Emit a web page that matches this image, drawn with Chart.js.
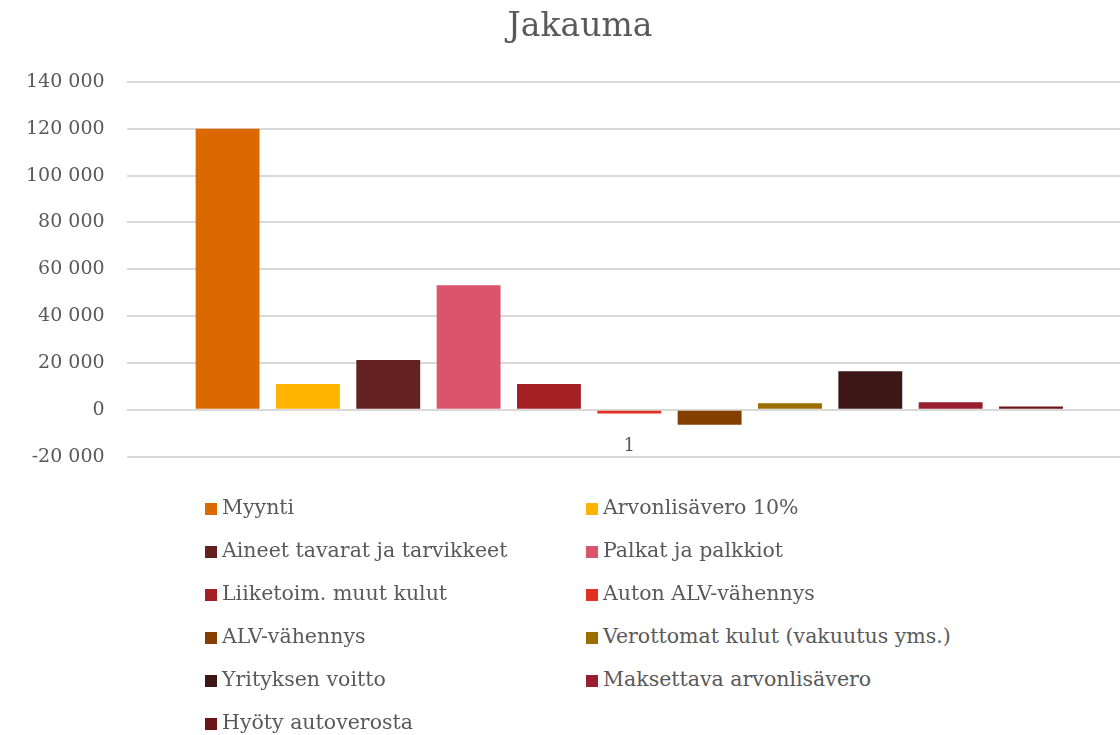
<!DOCTYPE html>
<html>
<head>
<meta charset="utf-8">
<script src="https://cdn.jsdelivr.net/npm/chart.js@4"></script>
<style>
  html, body { margin: 0; padding: 0; background: #fff; overflow: hidden; }
  #wrap { position: absolute; left: 0; top: 0; width: 1132px; height: 490px; }
  #title { position: absolute; left: 380px; width: 400px; top: 5px; text-align: center;
           font-family: 'DejaVu Serif', serif; font-size: 33px; color: #595959; }
  #legend { position: absolute; left: 0; top: 486px; width: 1120px;
            font-family: 'DejaVu Serif', serif; font-size: 20.5px; color: #595959; }
  .item { position: absolute; height: 43px; line-height: 43px; white-space: nowrap; }
  .box { display: inline-block; width: 12px; height: 12px; margin-right: 5px; vertical-align: -1px; }
</style>
</head>
<body>
<div id="wrap"><canvas id="chart"></canvas></div>
<div id="title">Jakauma</div>
<div id="legend"></div>
<script>
// data
var categories = ['1'];
var seriesNames = [
    'Myynti', 'Arvonlisävero 10%', 'Aineet tavarat ja tarvikkeet', 'Palkat ja palkkiot',
    'Liiketoim. muut kulut', 'Auton ALV-vähennys', 'ALV-vähennys', 'Verottomat kulut (vakuutus yms.)',
    'Yrityksen voitto', 'Maksettava arvonlisävero', 'Hyöty autoverosta'
];
var seriesValues = [120000, 11000, 21300, 53200, 11000, -1600, -6400, 2800, 16500, 3200, 1400];
var seriesColors = [
    '#DC6900', '#FFB400', '#632121', '#DA546B', '#A32024', '#E03123',
    '#843F00', '#9C6E00', '#3D1616', '#991E32', '#6A1517'
];
var yTicks = [-20000, 0, 20000, 40000, 60000, 80000, 100000, 120000, 140000];

var fontFamily = "'DejaVu Serif', serif";
var textColor = '#595959';

function fmt(v) {
    // space as thousands separator, like the original
    var s = Math.abs(v).toString().replace(/\B(?=(\d{3})+(?!\d))/g, ' ');
    return (v < 0 ? '-' : '') + s;
}

var datasets = seriesNames.map(function (name, i) {
    return {
        label: name,
        data: [seriesValues[i]],
        backgroundColor: seriesColors[i],
        categoryPercentage: 0.879,
        barPercentage: 0.795
    };
});

var ctx = document.getElementById('chart').getContext('2d');
var chart = new Chart(ctx, {
    type: 'bar',
    data: { labels: categories, datasets: datasets },
    options: {
        responsive: true,
        maintainAspectRatio: false,
        animation: false,
        layout: { padding: { left: 4, right: 0, top: 82, bottom: 22 } },
        plugins: {
            legend: { display: false },
            tooltip: { enabled: false }
        },
        scales: {
            x: {
                position: { y: 0 },
                grid: { display: false },
                border: { display: false },
                ticks: {
                    color: textColor,
                    padding: 18,
                    font: { family: fontFamily, size: 18 }
                }
            },
            y: {
                min: yTicks[0],
                max: yTicks[yTicks.length - 1],
                afterBuildTicks: function (scale) {
                    scale.ticks = yTicks.map(function (v) { return { value: v }; });
                },
                grid: { color: '#D9D9D9', lineWidth: 2, drawTicks: false },
                border: { display: false },
                ticks: {
                    color: textColor,
                    padding: 22,
                    font: { family: fontFamily, size: 19 },
                    callback: function (v) { return fmt(v); }
                }
            }
        }
    }
});

// two-column legend under the chart, built from the datasets
var legend = document.getElementById('legend');
var colX = [205, 586];
chart.data.datasets.forEach(function (ds, i) {
    var item = document.createElement('div');
    item.className = 'item';
    item.style.left = colX[i % 2] + 'px';
    item.style.top = (Math.floor(i / 2) * 43) + 'px';
    var box = document.createElement('span');
    box.className = 'box';
    box.style.background = ds.backgroundColor;
    item.appendChild(box);
    item.appendChild(document.createTextNode(ds.label));
    legend.appendChild(item);
});
</script>
</body>
</html>
